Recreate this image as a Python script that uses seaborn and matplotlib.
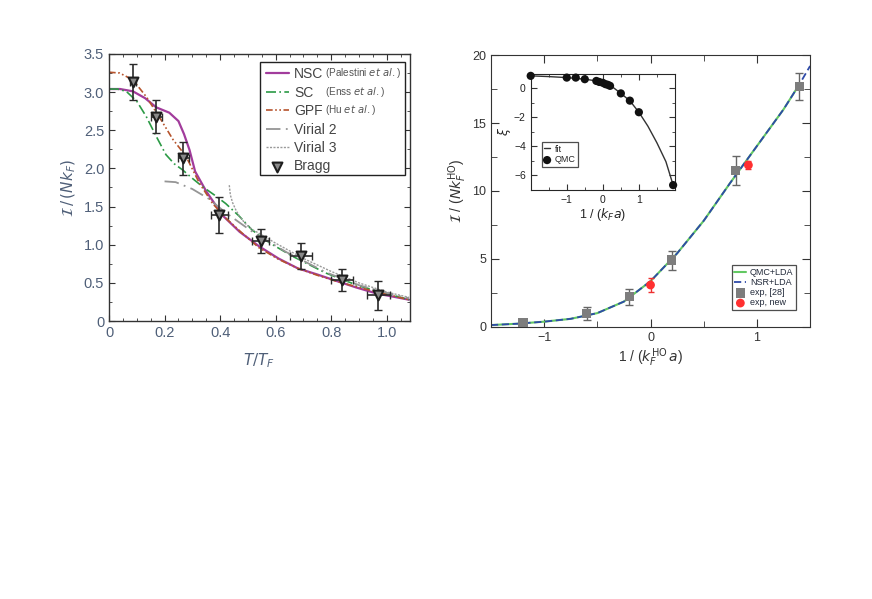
import matplotlib
matplotlib.use("Agg")
import matplotlib.pyplot as plt
import seaborn as sns
from matplotlib.patches import Rectangle
from matplotlib.ticker import MultipleLocator, FixedLocator, FuncFormatter

# ---- left panel: contact vs temperature ----
nsc_t = [0, 0.04, 0.086, 0.13, 0.17, 0.217, 0.25, 0.27, 0.29, 0.31, 0.35, 0.41,
         0.47, 0.54, 0.61, 0.68, 0.75, 0.815, 0.89, 0.965, 1.08]
nsc_c = [3.04, 3.04, 3.01, 2.92, 2.80, 2.73, 2.62, 2.45, 2.24, 1.96, 1.70, 1.38,
         1.17, 0.98, 0.82, 0.69, 0.61, 0.53, 0.44, 0.36, 0.28]
sc_t = [0, 0.03, 0.062, 0.1, 0.134, 0.17, 0.205, 0.235, 0.265, 0.3, 0.337, 0.38,
        0.42, 0.47, 0.516, 0.58, 0.66, 0.78, 0.9, 1.0, 1.08]
sc_c = [3.04, 3.04, 3.01, 2.88, 2.68, 2.42, 2.18, 2.06, 1.98, 1.87, 1.76, 1.65,
        1.54, 1.37, 1.19, 1.02, 0.85, 0.63, 0.46, 0.36, 0.28]
gpf_t = [0, 0.038, 0.086, 0.134, 0.18, 0.23, 0.277, 0.325, 0.373, 0.42, 0.48,
         0.54, 0.61, 0.68, 0.75, 0.82, 0.9, 1.0, 1.08]
gpf_c = [3.26, 3.25, 3.16, 2.94, 2.68, 2.38, 2.16, 1.81, 1.54, 1.35, 1.15,
         0.96, 0.81, 0.69, 0.60, 0.52, 0.44, 0.35, 0.28]
vir2_t = [0.2, 0.24, 0.3, 0.36, 0.42, 0.52, 0.64, 0.78, 0.9, 1.0, 1.08]
vir2_c = [1.83, 1.82, 1.73, 1.60, 1.42, 1.16, 0.90, 0.64, 0.47, 0.37, 0.30]
vir3_t = [0.433, 0.437, 0.445, 0.456, 0.47, 0.49, 0.515, 0.54, 0.6, 0.7, 0.8,
          0.9, 1.0, 1.08]
vir3_c = [1.78, 1.65, 1.55, 1.46, 1.37, 1.28, 1.20, 1.15, 1.02, 0.82, 0.65,
          0.50, 0.38, 0.31]
bragg_t = [0.086, 0.17, 0.268, 0.397, 0.546, 0.69, 0.84, 0.97]
bragg_c = [3.13, 2.68, 2.13, 1.39, 1.05, 0.85, 0.54, 0.34]
bragg_cerr = [0.24, 0.21, 0.22, 0.23, 0.16, 0.17, 0.14, 0.19]
bragg_terr = [0.01, 0.02, 0.02, 0.03, 0.03, 0.04, 0.04, 0.04]
left_names = ["NSC", "SC", "GPF", "Virial 2", "Virial 3", "Bragg"]
left_refs = [r"(Palestini $\mathit{et\ al.}$)", r"(Enss $\mathit{et\ al.}$)",
             r"(Hu $\mathit{et\ al.}$)"]

# ---- right panel: trapped contact vs interaction ----
lda_x = [-1.5, -1.25, -1.0, -0.75, -0.5, -0.25, 0, 0.25, 0.5, 0.75, 1.0, 1.25,
         1.4, 1.5]
lda_y = [0.12, 0.22, 0.37, 0.58, 1.0, 1.85, 3.35, 5.4, 7.8, 10.6, 13.3, 16.0,
         17.85, 19.2]
exp28_x = [-1.2, -0.6, -0.2, 0.2, 0.8, 1.4]
exp28_y = [0.3, 0.98, 2.2, 4.9, 11.5, 17.7]
exp28_err = [0.15, 0.47, 0.6, 0.7, 1.05, 1.0]
expnew_x = [0.0, 0.92]
expnew_y = [3.07, 11.9]
expnew_err = [0.5, 0.3]

# ---- inset: xi vs 1/(kF a) ----
qmc_x = [-2.0, -1.0, -0.75, -0.5, -0.18, -0.1, 0.0, 0.07, 0.14, 0.2, 0.5, 0.75,
         1.0, 1.95]
qmc_y = [0.87, 0.75, 0.75, 0.64, 0.52, 0.45, 0.39, 0.30, 0.25, 0.18, -0.34,
         -0.84, -1.64, -6.67]
fit_x = [-2.0, -1.5, -1.0, -0.5, -0.25, 0.0, 0.25, 0.5, 0.75, 1.0, 1.25, 1.5,
         1.75, 1.95]
fit_y = [0.87, 0.82, 0.75, 0.64, 0.55, 0.39, 0.14, -0.34, -0.85, -1.64, -2.6,
         -3.75, -5.05, -6.67]

sns.set_style("ticks")
plt.rcParams["font.family"] = ["Liberation Sans", "DejaVu Sans"]
plt.rcParams["mathtext.fontset"] = "dejavusans"

fig = plt.figure(figsize=(8.72, 5.99), dpi=100)

# left panel
axl = fig.add_axes([0.125, 0.464, 0.345, 0.446])
tick_col = "#4f5f78"
sns.lineplot(x=nsc_t, y=nsc_c, ax=axl, color="#a23c9c", lw=1.6,
             label=left_names[0])
sns.lineplot(x=sc_t, y=sc_c, ax=axl, color="#2b9a45", lw=1.2,
             linestyle=(0, (6, 2, 1, 2)), label=left_names[1])
sns.lineplot(x=gpf_t, y=gpf_c, ax=axl, color="#b6532c", lw=1.2,
             linestyle=(0, (4, 1.5, 1, 1.5, 1, 1.5)), label=left_names[2])
sns.lineplot(x=vir2_t, y=vir2_c, ax=axl, color="#959595", lw=1.3,
             linestyle=(0, (8, 3, 1, 3)), label=left_names[3])
sns.lineplot(x=vir3_t, y=vir3_c, ax=axl, color="#9a9a9a", lw=1.0,
             linestyle=(0, (1.5, 1)), label=left_names[4])
axl.errorbar(bragg_t, bragg_c, yerr=bragg_cerr, xerr=bragg_terr, fmt="none",
             ecolor="#2a2a2a", elinewidth=1.2, capsize=3, zorder=4)
sns.scatterplot(x=bragg_t, y=bragg_c, ax=axl, marker="v", s=50,
                facecolor="#8a8a8a", edgecolor="#1e1e1e", linewidth=1.5,
                label=left_names[5], zorder=5)
axl.set_xlim(0, 1.083)
axl.set_ylim(0, 3.5)
axl.xaxis.set_major_locator(MultipleLocator(0.2))
axl.xaxis.set_minor_locator(MultipleLocator(0.05))
axl.yaxis.set_major_locator(MultipleLocator(0.5))
axl.yaxis.set_minor_locator(MultipleLocator(0.25))
fmt = FuncFormatter(lambda v, p: "0" if abs(v) < 1e-9 else f"{v:.1f}")
axl.xaxis.set_major_formatter(fmt)
axl.yaxis.set_major_formatter(fmt)
axl.tick_params(which="both", direction="in", top=True, right=True,
                labelsize=10.5, labelcolor=tick_col, color="#333333")
axl.tick_params(which="major", length=4)
axl.tick_params(which="minor", length=2)
axl.set_xlabel(r"$T/T_F$", fontsize=11, color=tick_col, labelpad=8)
axl.set_ylabel(r"$\mathcal{I}\,/\,(Nk_F)$", fontsize=11, color=tick_col, labelpad=4)
leg = axl.legend(loc="upper left", fontsize=10, frameon=False,
                 handlelength=1.7, handletextpad=0.35, borderpad=0.4,
                 labelspacing=0.32, labelcolor="#444444",
                 borderaxespad=0, bbox_to_anchor=(0.502, 0.971))
leg.set_zorder(8)
# the legend box also holds the smaller reference notes
axl.add_patch(Rectangle((0.502, 0.547), 0.481, 0.424, transform=axl.transAxes,
                        facecolor="white", edgecolor="#222222", lw=1.0,
                        zorder=7))
for txt, ref in zip(leg.get_texts()[:3], left_refs):
    axl.annotate(ref, xy=(0, 0), xycoords=txt, xytext=(22, 0.8),
                 textcoords="offset points", fontsize=7.2, color="#555555",
                 va="bottom", ha="left", zorder=10)
for s in axl.spines.values():
    s.set_color("#333333")
    s.set_linewidth(1.0)

# right panel
axr = fig.add_axes([0.563, 0.4546, 0.366, 0.4534])
sns.lineplot(x=lda_x[:-1], y=lda_y[:-1], ax=axr, color="#62c862", lw=1.5,
             label="QMC+LDA")
sns.lineplot(x=lda_x, y=lda_y, ax=axr, color="#2e4aa8", lw=1.3,
             linestyle=(0, (4, 2)), label="NSR+LDA")
axr.errorbar(exp28_x, exp28_y, yerr=exp28_err, fmt="none", ecolor="#666666",
             elinewidth=1.0, capsize=3, zorder=4)
sns.scatterplot(x=exp28_x, y=exp28_y, ax=axr, marker="s", s=45,
                color="#7d7d7d", edgecolor="none", label="exp, [28]", zorder=5)
axr.errorbar(expnew_x, expnew_y, yerr=expnew_err, fmt="none",
             ecolor="#ee3030", elinewidth=1.0, capsize=2, zorder=4)
sns.scatterplot(x=expnew_x, y=expnew_y, ax=axr, marker="o", s=40,
                color="#ff3030", edgecolor="none", label="exp, new", zorder=5)
axr.set_xlim(-1.5, 1.5)
axr.set_ylim(0, 20)
axr.xaxis.set_major_locator(MultipleLocator(1))
axr.xaxis.set_minor_locator(MultipleLocator(0.5))
axr.yaxis.set_major_locator(MultipleLocator(5))
axr.yaxis.set_minor_locator(MultipleLocator(2.5))
axr.tick_params(which="both", direction="in", top=True, right=True,
                labelsize=9, labelcolor="#333333", color="#333333")
axr.tick_params(which="major", length=6)
axr.tick_params(which="minor", length=4)
axr.set_xlabel(r"1 / ($k_F^{\rm HO}\,a$)", fontsize=10, color="#333333", labelpad=2)
axr.set_ylabel(r"$\mathcal{I}$ / ($Nk_F^{\rm HO}$)", fontsize=10, color="#333333",
               labelpad=2)
leg2 = axr.legend(loc="lower right", fontsize=6.5, frameon=True, fancybox=False,
                  edgecolor="#222222", handlelength=1.3, handletextpad=0.4,
                  borderpad=0.3, labelspacing=0.12, labelcolor="#222a3a",
                  borderaxespad=0, bbox_to_anchor=(0.956, 0.061))
leg2.get_frame().set_linewidth(0.9)
for s in axr.spines.values():
    s.set_color("#333333")

# inset
axi = fig.add_axes([0.6086, 0.683, 0.1654, 0.1935])
sns.lineplot(x=fit_x, y=fit_y, ax=axi, color="#333333", lw=1.0, label="fit")
sns.scatterplot(x=qmc_x, y=qmc_y, ax=axi, color="#111111", s=35,
                edgecolor="none", label="QMC", zorder=5, clip_on=False)
axi.set_xlim(-2, 2)
axi.set_ylim(-7, 1)
axi.xaxis.set_major_locator(FixedLocator([-1, 0, 1]))
axi.xaxis.set_minor_locator(MultipleLocator(0.5))
axi.yaxis.set_major_locator(MultipleLocator(2))
axi.yaxis.set_minor_locator(MultipleLocator(1))
axi.tick_params(which="both", direction="in", top=True, right=True,
                labelsize=7.5, color="#333333", labelcolor="#222222")
axi.tick_params(which="major", length=4)
axi.tick_params(which="minor", length=2.5)
axi.set_xlabel(r"1 / ($k_F a$)", fontsize=9, labelpad=1)
axi.set_ylabel(r"$\xi$", fontsize=9, labelpad=1)
leg3 = axi.legend(loc="lower left", fontsize=6.5, frameon=True, fancybox=False,
                  edgecolor="#222222", handlelength=0.7, handletextpad=0.5,
                  borderpad=0.25, labelspacing=0.2, borderaxespad=0,
                  bbox_to_anchor=(0.076, 0.2))
leg3.get_frame().set_linewidth(0.9)

fig.savefig("out.png", dpi=100, facecolor="white")
